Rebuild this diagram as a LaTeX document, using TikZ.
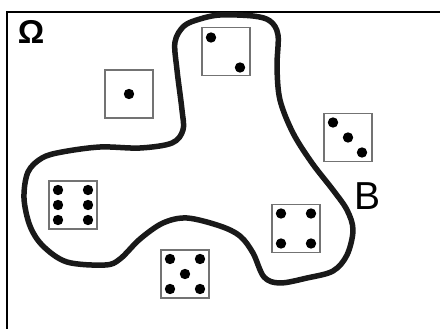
\documentclass[tikz,border=0pt]{standalone}
\usepackage{fontspec}
\setmainfont{Liberation Sans}
\usetikzlibrary{calc}
\tikzset{
  die/.style={draw=black!55,line width=1.3pt,fill=white,minimum size=48pt,inner sep=0pt},
  pip/.style={fill=black},
  region/.style={draw=black!90,line width=5.5pt,line join=round},
  frame/.style={draw=black,line width=2.2pt},
  setlabel/.style={inner sep=0pt,font=\fontsize{33pt}{34pt}\selectfont\bfseries},
  eventlabel/.style={inner sep=0pt,font=\fontsize{39pt}{40pt}\selectfont},
}
\newcommand{\pips}[2]{\foreach \dx/\dy in {#2} \fill[pip] ($(#1)+(\dx,\dy)$) circle (5.2pt);}

\begin{document}
\begin{tikzpicture}[x=1pt,y=-1pt]
  \useasboundingbox (0,0) rectangle (440,329);
  % sample space
  \draw[frame] (7,329) -- (7,12) -- (440,12);
  \node[setlabel] (omega) at (31,31.5) {Ω};
  % event B
  \draw[region] plot[smooth cycle,tension=0.55] coordinates {
    (220,15) (253,16) (270,21) (278,35) (277,67) (280,100) (293,133)
    (312,163) (333,190) (347,210) (353,230) (347,255) (333,271) (307,278)
    (280,283) (264,277) (253,253) (240,236) (220,226) (187,218) (163,223)
    (140,239) (120,259) (105,265) (67,262) (43,246) (30,226) (24,198)
    (28,172) (42,158) (62,152) (100,147) (140,148) (172,143) (183,130)
    (182,110) (177,70) (175,42) (184,26) (200,19)};
  \node[eventlabel] (b) at (368,196) {B};
  % dice
  \node[die] (one) at (129,94) {};
  \node[die] (two) at (226,51.5) {};
  \node[die] (three) at (348,137.5) {};
  \node[die] (four) at (296,228.5) {};
  \node[die] (five) at (185,274) {};
  \node[die] (six) at (73,205) {};
  \pips{one}{0/0}
  \pips{two}{-15/-14,14/16}
  \pips{three}{-15/-15,0/0,14/15}
  \pips{four}{-15/-15,15/-15,-15/15,15/15}
  \pips{five}{-15/-15,15/-15,0/0,-15/15,15/15}
  \pips{six}{-15/-15,15/-15,-15/0,15/0,-15/15,15/15}
\end{tikzpicture}
\end{document}
